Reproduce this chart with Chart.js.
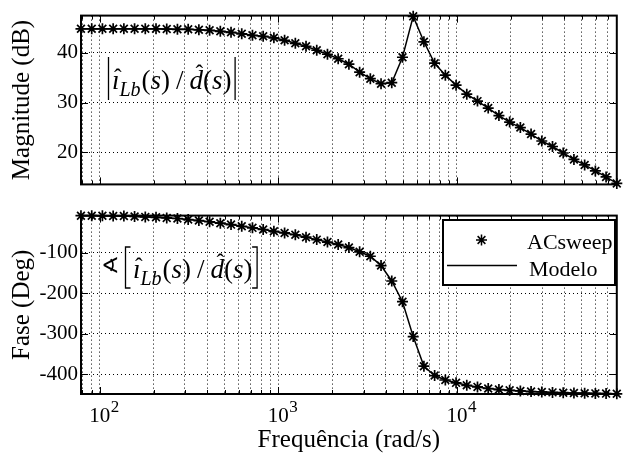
<!DOCTYPE html>
<html>
<head>
<meta charset="utf-8">
<script src="https://cdn.jsdelivr.net/npm/chart.js@4.4.1/dist/chart.umd.min.js"></script>
<style>
    body { margin: 0; background: #fff; }
    #wrap { position: relative; width: 624px; height: 458px; }
    #wrap canvas { position: absolute; left: 0; }
</style>
</head>
<body>
<div id="wrap">
    <canvas id="mag" width="624" height="200" style="top:0px"></canvas>
    <canvas id="phase" width="624" height="258" style="top:200px"></canvas>
</div>
<script>
// frequency points of the sweep (rad/s)
const freq = [78.5, 90.2, 103.5, 118.9, 136.5, 156.7, 179.9, 206.6, 237.2, 272.3,
    312.7, 359.0, 412.2, 473.3, 543.4, 623.9, 716.3, 822.4, 944.3, 1084,
    1245, 1429, 1641, 1884, 2163, 2484, 2852, 3274, 3759, 4316,
    4956, 5690, 6533, 7501, 8612, 9888, 11353, 13034, 14966, 17183,
    19728, 22651, 26007, 29860, 34284, 39363, 45195, 51891, 59579, 68406, 78540];

// |iLb/d| in dB
const magnitude = [44.8, 44.8, 44.8, 44.8, 44.8, 44.8, 44.8, 44.8, 44.75, 44.7,
    44.7, 44.6, 44.5, 44.3, 44.1, 43.8, 43.5, 43.3, 43.0, 42.5,
    41.9, 41.3, 40.5, 39.7, 38.8, 37.7, 36.1, 34.8, 33.8, 34.0,
    39.1, 47.3, 42.2, 37.9, 35.5, 33.5, 31.7, 30.3, 28.9, 27.4,
    26.1, 25.0, 23.7, 22.3, 21.2, 19.9, 18.6, 17.5, 16.3, 15.1, 13.8];

// phase of iLb/d in degrees
const phase = [-9, -9, -9.3, -9.6, -10, -11, -12, -13, -14.5, -16,
    -18.5, -21, -24, -27.5, -31, -35, -39, -43, -47.5, -51.5,
    -56, -62, -68, -74, -80, -87.5, -98, -109, -132, -170,
    -221, -307, -380, -403, -414, -421, -427, -431, -435, -437.5,
    -439.5, -441, -442.5, -443.5, -444.5, -445.3, -446, -446.5, -447, -447.5, -448];

const xGrid = [80, 90, 100, 200, 300, 400, 500, 600, 700, 800, 900,
    1000, 2000, 3000, 4000, 5000, 6000, 7000, 8000, 9000,
    10000, 20000, 30000, 40000, 50000, 60000, 70000];
const xMajor = [100, 1000, 10000];
const magTicks = [20, 30, 40];
const phaseTicks = [-400, -300, -200, -100];

const SERIF = '"Liberation Serif", "Times New Roman", serif';
const STAR = { pointStyle: 'star', radius: 5.5, borderWidth: 1.7, rotation: 0 };

function points(values) {
    return freq.map((f, i) => ({ x: f, y: values[i] }));
}

function datasets(values) {
    return [{
        label: 'Modelo',
        data: points(values),
        borderColor: '#000',
        borderWidth: 1.5,
        pointRadius: 0,
        tension: 0
    }, {
        label: 'ACsweep',
        data: points(values),
        showLine: false,
        pointStyle: 'star',
        pointRadius: STAR.radius,
        pointBorderWidth: STAR.borderWidth,
        pointBorderColor: '#000',
        pointBackgroundColor: '#000',
        clip: false
    }];
}

function line(ctx, x1, y1, x2, y2) {
    ctx.beginPath();
    ctx.moveTo(x1, y1);
    ctx.lineTo(x2, y2);
    ctx.stroke();
}

// box round the plot with the small inward tick marks
const framePlugin = {
    id: 'frame',
    afterDraw(chart) {
        const { ctx, chartArea: a, scales: { x, y } } = chart;
        ctx.save();
        ctx.strokeStyle = '#000';
        ctx.lineWidth = 1;
        xGrid.forEach(v => {
            const px = Math.round(x.getPixelForValue(v)) + 0.5;
            const len = xMajor.includes(v) ? 7 : 4;
            line(ctx, px, a.bottom, px, a.bottom - len);
            line(ctx, px, a.top, px, a.top + len);
        });
        y.ticks.forEach(t => {
            const py = Math.round(y.getPixelForValue(t.value)) + 0.5;
            line(ctx, a.left, py, a.left + 7, py);
            line(ctx, a.right, py, a.right - 7, py);
        });
        ctx.lineWidth = 2;
        ctx.strokeRect(a.left, a.top, a.right - a.left, a.bottom - a.top);
        ctx.restore();
    }
};

function hat(ctx, cx, base, lift) {
    ctx.save();
    ctx.font = '23px ' + SERIF;
    ctx.textAlign = 'center';
    ctx.fillText('\u02C6', cx, base - lift);
    ctx.restore();
}

// draws  i_Lb(s) / d(s)  with hats, returns the x where it ends
function drawExpr(ctx, x, base) {
    const italic = s => 'italic ' + s + 'px ' + SERIF;
    const roman = s => s + 'px ' + SERIF;
    let cx = x;
    function put(txt, font, dy) {
        ctx.font = font;
        ctx.fillText(txt, cx, base + (dy || 0));
        const w = ctx.measureText(txt).width;
        cx += w;
        return w;
    }
    ctx.textAlign = 'left';
    ctx.textBaseline = 'alphabetic';
    const iStart = cx;
    const iw = put('\u0131', italic(27));
    hat(ctx, iStart + iw / 2 + 2, base, 4);
    put('Lb', italic(20), 7);
    cx += 1;
    put('(', roman(27));
    put('s', italic(27));
    put(')', roman(27));
    cx += 6;
    put('/', roman(27));
    cx += 6;
    const dStart = cx;
    const dw = put('d', italic(27));
    hat(ctx, dStart + dw / 2 + 3, base, 8);
    put('(', roman(27));
    put('s', italic(27));
    put(')', roman(27));
    return cx;
}

const magLabel = {
    id: 'magLabel',
    afterDraw(chart) {
        const ctx = chart.ctx;
        ctx.save();
        ctx.fillStyle = '#000';
        ctx.strokeStyle = '#000';
        ctx.lineWidth = 1.3;
        const end = drawExpr(ctx, 112, 89);
        line(ctx, 108.5, 57, 108.5, 100);
        line(ctx, end + 3.5, 57, end + 3.5, 100);
        ctx.restore();
    }
};

const phaseLabel = {
    id: 'phaseLabel',
    afterDraw(chart) {
        const ctx = chart.ctx;
        ctx.save();
        ctx.fillStyle = '#000';
        ctx.strokeStyle = '#000';
        ctx.lineWidth = 1.3;
        ctx.font = '22px "DejaVu Serif", serif';
        ctx.textBaseline = 'middle';
        ctx.fillText('\u2222', 101, 67);
        const end = drawExpr(ctx, 133, 78);
        // square brackets
        [[125.5, 1], [end + 4.5, -1]].forEach(([bx, dir]) => {
            ctx.beginPath();
            ctx.moveTo(bx + 5 * dir, 47);
            ctx.lineTo(bx, 47);
            ctx.lineTo(bx, 88);
            ctx.lineTo(bx + 5 * dir, 88);
            ctx.stroke();
        });

        // legend
        const lx = 443, ly = 20, lw = 172, lh = 65;
        ctx.fillStyle = '#fff';
        ctx.fillRect(lx, ly, lw, lh);
        ctx.lineWidth = 2;
        ctx.strokeRect(lx, ly, lw, lh);
        ctx.lineWidth = 1.5;
        Chart.helpers.drawPoint(ctx, STAR, 481.5, 40);
        line(ctx, 447, 65.5, 517, 65.5);
        ctx.fillStyle = '#000';
        ctx.font = '22px ' + SERIF;
        ctx.textBaseline = 'alphabetic';
        ctx.fillText('ACsweep', 527, 48.5);
        ctx.fillText('Modelo', 529, 76);
        ctx.restore();
    }
};

// 10^n labels under the lower plot
const decadeLabels = {
    id: 'decadeLabels',
    afterDraw(chart) {
        const { ctx, scales: { x } } = chart;
        ctx.save();
        ctx.fillStyle = '#000';
        ctx.textBaseline = 'alphabetic';
        xMajor.forEach(v => {
            const px = x.getPixelForValue(v);
            ctx.font = '21px ' + SERIF;
            ctx.textAlign = 'center';
            ctx.fillText('10', px, 221.5);
            const w = ctx.measureText('10').width;
            ctx.font = '17px ' + SERIF;
            ctx.textAlign = 'left';
            ctx.fillText(String(Math.round(Math.log10(v))), px + w / 2 + 0.5, 211.5);
        });
        ctx.restore();
    }
};

function makeChart(id, values, yMin, yMax, yTicks, yTitle, opts) {
    return new Chart(document.getElementById(id), {
        type: 'line',
        data: { datasets: datasets(values) },
        options: {
            responsive: false,
            animation: false,
            events: [],
            layout: { padding: { top: opts.padTop, right: 2, left: 0, bottom: 0 } },
            plugins: { legend: { display: false }, tooltip: { enabled: false } },
            scales: {
                x: {
                    type: 'logarithmic',
                    min: 78.54,
                    max: 78540,
                    afterBuildTicks: s => { s.ticks = xGrid.map(v => ({ value: v })); },
                    afterFit: s => { s.height = opts.xHeight; },
                    ticks: { display: false },
                    grid: { color: '#000', lineWidth: 1, drawTicks: false },
                    border: { display: false, dash: [1, 3] },
                    title: {
                        display: opts.xTitle,
                        text: 'Frequência (rad/s)',
                        color: '#000',
                        font: { family: SERIF, size: 25 },
                        padding: { top: 0, bottom: 3 }
                    }
                },
                y: {
                    min: yMin,
                    max: yMax,
                    afterBuildTicks: s => { s.ticks = yTicks.map(v => ({ value: v })); },
                    afterFit: s => { s.width = 81; },
                    ticks: { color: '#000', padding: 3, font: { family: SERIF, size: 21 } },
                    grid: { color: '#000', lineWidth: 1, drawTicks: false },
                    border: { display: false, dash: [1, 3] },
                    title: {
                        display: true,
                        text: yTitle,
                        color: '#000',
                        font: { family: SERIF, size: 25 },
                        padding: { top: 7, bottom: 0 }
                    }
                }
            }
        },
        plugins: opts.plugins
    });
}

makeChart('mag', magnitude, 13.6, 47.45, magTicks, 'Magnitude (dB)',
    { padTop: 7, xHeight: 10, xTitle: false, plugins: [framePlugin, magLabel] });
makeChart('phase', phase, -448.5, -8.8, phaseTicks, 'Fase (Deg)',
    { padTop: 12, xHeight: 64, xTitle: true, plugins: [framePlugin, phaseLabel, decadeLabels] });
</script>
</body>
</html>
